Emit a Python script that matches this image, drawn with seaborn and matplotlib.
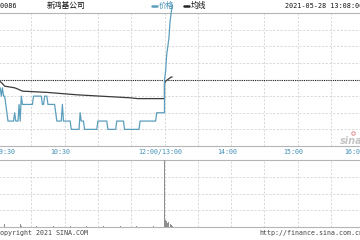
import matplotlib
matplotlib.use("Agg")
import matplotlib.pyplot as plt
import seaborn as sns
import numpy as np
import pandas as pd
from matplotlib import transforms
from matplotlib.lines import Line2D

sns.set_theme(style="white")
plt.rcParams['font.family'] = ['DejaVu Sans Mono', 'Noto Sans CJK SC']

# ---------------- data ----------------
code = "00086"
name = "新鸿基公司"
stamp = "2021-05-28 13:08:00"
legend_labels = ["价格", "均线"]
prev_close = 4.00

# one value per minute, 09:30 .. 12:00
am_prices = [
    4.00, 3.99, 3.99, 3.98, 3.99, 3.98, 3.98, 3.97, 3.96, 3.95,
    3.95, 3.95, 3.95, 3.95, 3.95, 3.96, 3.95, 3.95, 3.95, 3.97,
    3.95, 3.98, 3.97, 3.97, 3.97, 3.97, 3.97, 3.97, 3.97, 3.97,
    3.97, 3.97, 3.98, 3.98, 3.98, 3.98, 3.98, 3.98, 3.98, 3.98,
    3.97, 3.97, 3.98, 3.98, 3.98, 3.97, 3.97, 3.97, 3.97, 3.97,
    3.97, 3.97, 3.96, 3.95, 3.95, 3.95, 3.95, 3.95, 3.97, 3.95,
    3.95, 3.95, 3.95, 3.95, 3.95, 3.95, 3.94, 3.94, 3.94, 3.94,
    3.94, 3.94, 3.94, 3.94, 3.96, 3.95, 3.95, 3.95, 3.94, 3.94,
    3.94, 3.94, 3.94, 3.94, 3.94, 3.94, 3.94, 3.94, 3.94, 3.94,
    3.95, 3.95, 3.95, 3.95, 3.95, 3.95, 3.95, 3.95, 3.95, 3.94,
    3.94, 3.94, 3.94, 3.94, 3.94, 3.94, 3.94, 3.95, 3.95, 3.95,
    3.95, 3.95, 3.95, 3.95, 3.94, 3.94, 3.94, 3.94, 3.94, 3.94,
    3.94, 3.94, 3.94, 3.94, 3.94, 3.94, 3.94, 3.94, 3.95, 3.95,
    3.95, 3.95, 3.95, 3.95, 3.95, 3.95, 3.95, 3.95, 3.95, 3.95,
    3.95, 3.95, 3.95, 3.96, 3.96, 3.96, 3.96, 3.96, 3.96, 3.96,
    3.96,
]
# one value per minute, 13:00 .. 13:07
pm_prices = [4.00, 4.01, 4.03, 4.04, 4.05, 4.07, 4.08, 4.09]

avg_times = ["09:30", "09:34", "09:36", "09:45", "09:47", "09:52", "10:14",
             "10:28", "10:42", "11:02", "11:29", "11:36", "12:00", "13:00",
             "13:01", "13:02", "13:03", "13:04", "13:05", "13:06", "13:07"]
avg_values = [4.000, 3.995, 3.992, 3.990, 3.989, 3.986, 3.9845,
              3.983, 3.9815, 3.980, 3.978, 3.977, 3.977, 3.995,
              3.998, 3.999, 4.000, 4.001, 4.002, 4.003, 4.003]

vol_times = ["09:30", "09:31", "09:36", "09:50", "09:51", "10:05", "10:20",
             "10:35", "10:50", "11:05", "11:20", "11:35", "11:50", "13:00",
             "13:01", "13:02", "13:03", "13:04", "13:05", "13:06", "13:07"]
vol_values = [6, 3, 4, 5, 2, 1.5, 1.5, 2, 1.5, 1.5, 1.5, 1.5, 1.5, 100,
              10, 9, 6, 8, 4, 3, 2]

tick_times = ["09:30", "10:30", "12:00/13:00", "14:00", "15:00", "16:00"]


# ---------------- helpers ----------------
def idx(t):
    h, m = map(int, t.split("/")[0].split(":"))
    mins = h * 60 + m
    return mins - 570 if mins <= 720 else 150 + mins - 780


am_times = pd.date_range("2021-05-28 09:30", periods=len(am_prices), freq="min").strftime("%H:%M")
pm_times = pd.date_range("2021-05-28 13:00", periods=len(pm_prices), freq="min").strftime("%H:%M")
price_df = pd.DataFrame({
    "x": [idx(t) for t in list(am_times) + list(pm_times)],
    "price": am_prices + pm_prices,
})
avg_df = pd.DataFrame({"x": [idx(t) for t in avg_times], "avg": avg_values})
vol_df = pd.DataFrame({"x": [idx(t) for t in vol_times], "vol": vol_values})

W, H = 360, 240
fig = plt.figure(figsize=(3.6, 2.4), dpi=100)
fig.patch.set_facecolor("white")

pxmin = 1.11
left_px = -2
ax_w = 330 * pxmin
ax_p = fig.add_axes([left_px / W, (H - 146) / H, ax_w / W, 133 / H])
ax_v = fig.add_axes([left_px / W, (H - 227) / H, ax_w / W, 67 / H])

grid_col = "#d2d2d2"
for ax in (ax_p, ax_v):
    ax.set_facecolor("white")
    ax.set_xlim(0, 330)
    ax.set_xticks(range(0, 331, 30))
    ax.tick_params(length=0, labelbottom=False, labelleft=False)
    ax.grid(True, color=grid_col, lw=0.6, ls=(0, (2.5, 2)))
    for s in ("left", "right"):
        ax.spines[s].set_visible(False)
    for s in ("top", "bottom"):
        ax.spines[s].set_color("#b5b5b5")
        ax.spines[s].set_linewidth(0.8)

ax_p.set_ylim(prev_close - 0.08, prev_close + 0.08)
ax_p.set_yticks(np.linspace(prev_close - 0.08, prev_close + 0.08, 9))
ax_v.set_ylim(0, 100)
ax_v.set_yticks([25, 50, 75])

ax_p.axhline(prev_close, color="#222222", lw=0.8, ls=(0, (1, 1)), zorder=3)

sns.lineplot(data=avg_df, x="x", y="avg", ax=ax_p, color="#3a3a3a", lw=0.9,
             estimator=None, sort=False, zorder=4)
sns.lineplot(data=price_df, x="x", y="price", ax=ax_p, color="#5b9fbd", lw=0.9,
             estimator=None, sort=False, zorder=5, clip_on=False)
ax_p.set_xlabel(""); ax_p.set_ylabel("")

ax_v.bar(vol_df["x"], vol_df["vol"], width=0.9, color="#8f8f8f",
         edgecolor="none", linewidth=0, zorder=3)
ax_v.set_xlabel(""); ax_v.set_ylabel("")

# time labels between the panels
blend = transforms.blended_transform_factory(ax_p.transData, ax_p.transAxes)
lab_col = "#3f8db3"
for i, t in enumerate(tick_times):
    x = idx(t)
    if i == 0:
        ha, dx = "left", -2
    elif i == len(tick_times) - 1:
        ha, dx = "right", 0
    else:
        ha, dx = "center", -4
    tr = blend + transforms.ScaledTranslation(dx / 100, 0, fig.dpi_scale_trans)
    ax_p.text(x, -6 / 133, t, transform=tr, ha=ha, va="center",
              fontsize=4.8, color=lab_col, family="DejaVu Sans Mono")

# header
ytop = 1 - 5.5 / H
fig.text(17 / W, ytop, code, ha="right", va="center", fontsize=4.9, color="#111111",
         family="DejaVu Sans Mono")
fig.text(47 / W, ytop, name, ha="left", va="center", fontsize=5.6, color="#111111",
         family=["Noto Sans CJK SC"])
fig.add_artist(Line2D([152 / W, 157 / W], [ytop, ytop], color="#5b9fbd", lw=1.8,
                      transform=fig.transFigure))
fig.text(159 / W, ytop, legend_labels[0], ha="left", va="center", fontsize=5.6,
         color="#3f8db3", family=["Noto Sans CJK SC"])
fig.add_artist(Line2D([184 / W, 189 / W], [ytop, ytop], color="#222222", lw=1.8,
                      transform=fig.transFigure))
fig.text(191 / W, ytop, legend_labels[1], ha="left", va="center", fontsize=5.6,
         color="#111111", family=["Noto Sans CJK SC"])
fig.text(363 / W, ytop, stamp, ha="right", va="center", fontsize=4.9, color="#111111",
         family="DejaVu Sans Mono")

# footer
yfoot = 1 - 233 / H
fig.text(-4 / W, yfoot, "Copyright 2021 SINA.COM", ha="left", va="center",
         fontsize=4.8, color="#444444", family="DejaVu Sans Mono")
fig.text(363 / W, yfoot, "http://finance.sina.com.cn", ha="right", va="center",
         fontsize=4.8, color="#444444", family="DejaVu Sans Mono")

# watermark
fig.text(351 / W, 1 - 141 / H, "sina", ha="center", va="center", fontsize=7,
         color="#c4c4c4", style="italic", weight="bold", family="DejaVu Sans")
fig.add_artist(Line2D([353 / W], [1 - 133 / H], marker="o", ms=2.5, mfc="none",
                      mec="#e08a8a", mew=0.7, transform=fig.transFigure))

fig.savefig("out.png", dpi=100, facecolor="white")
